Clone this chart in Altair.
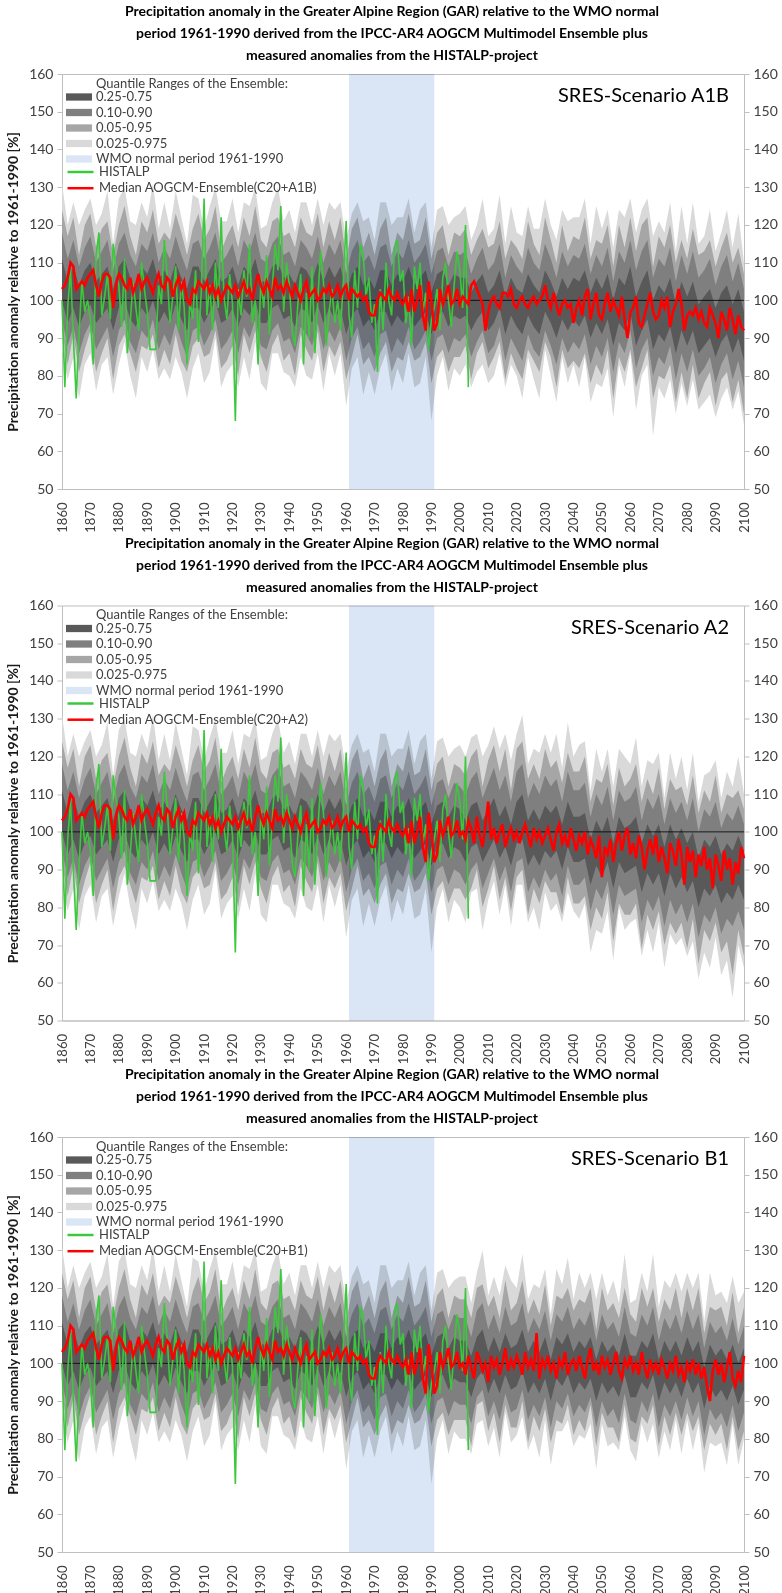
import altair as alt
import pandas as pd

FONT = "Lato"

YEARS = list(range(1860, 2101))
BAND_YEARS = list(range(1860, 2101, 2))
HISTALP_YEARS = list(range(1860, 2004))
X_TICKS = list(range(1860, 2101, 10))
Y_TICKS = list(range(50, 161, 10))
Y_DOMAIN = [50, 160]
WMO_PERIOD = [1961, 1991]

TITLE = [
    "Precipitation anomaly in the Greater Alpine Region (GAR) relative to the WMO normal",
    "period 1961-1990 derived from the IPCC-AR4 AOGCM Multimodel Ensemble plus",
    "measured anomalies from the HISTALP-project",
]
Y_TITLE = "Precipitation anomaly relative to 1961-1990 [%]"
LEGEND_HEADER = "Quantile Ranges of the Ensemble:"
BAND_LABELS = ["0.25-0.75", "0.10-0.90", "0.05-0.95", "0.025-0.975", "WMO normal period 1961-1990"]
BAND_COLORS = ["#595959", "#7f7f7f", "#a6a6a6", "#d9d9d9", "#dae5f5"]

# HISTALP station-based anomalies 1860-2003
histalp = [
    100, 77, 98, 108, 90, 74, 91, 105, 97, 100,
    95, 83, 112, 118, 96, 101, 107, 95, 115, 109,
    104, 93, 111, 86, 94, 105, 98, 92, 110, 103,
    97, 87, 87, 87, 104, 99, 116, 107, 94, 101,
    109, 92, 105, 98, 83, 100, 95, 108, 89, 102,
    127, 96, 104, 92, 110, 98, 122, 101, 95, 107,
    99, 68, 103, 96, 108, 101, 115, 94, 100, 83,
    106, 98, 112, 91, 103, 115, 108, 125, 97, 110,
    104, 92, 88, 99, 107, 83, 102, 90, 109, 86,
    100, 113, 105, 88, 97, 103, 94, 100, 92, 105,
    121, 96, 90, 108, 98, 115, 112, 101, 106, 94,
    99, 81, 103, 92, 110, 100, 96, 114, 116, 105,
    108, 94, 101, 88, 109, 103, 110, 97, 102, 87,
    95, 98, 103, 92, 106, 110, 100, 93, 104, 113,
    108, 98, 120, 77,
]

# Ensemble median, C20 runs 1860-2000
median_c20 = [
    103, 104, 106, 110, 109, 103, 104, 105, 104, 106,
    107, 108, 104, 101, 105, 107, 107, 106, 98, 104,
    107, 106, 104, 103, 106, 102, 104, 107, 103, 105,
    106, 104, 102, 105, 107, 104, 103, 106, 105, 101,
    104, 106, 103, 105, 100, 99, 103, 102, 105, 104,
    103, 105, 102, 104, 101, 103, 100, 102, 104, 103,
    102, 104, 101, 103, 105, 102, 103, 100, 104, 107,
    104, 102, 105, 103, 101, 106, 103, 104, 102, 105,
    103, 101, 104, 102, 100, 103, 105, 101, 102, 103,
    100, 101, 103, 102, 104, 101, 102, 104, 101, 103,
    104, 100, 103, 102, 101, 102, 100, 101, 97, 96,
    96, 100, 102, 101, 100, 103, 101, 100, 102, 100,
    99, 101, 97, 103, 97, 100, 104, 96, 92, 105,
    100, 92, 94, 103, 99, 101, 104, 99, 100, 103,
    99,
]

# Ensemble median, scenario runs 2001-2100
median_a1b = [
    101, 100, 99, 104, 105, 103, 101, 99, 92, 97,
    100, 101, 99, 98, 102, 102, 101, 103, 99, 98,
    100, 101, 99, 98, 100, 101, 99, 100, 101, 104,
    100, 98, 102, 99, 96, 99, 100, 98, 99, 94,
    98, 100, 96, 101, 103, 95, 99, 102, 96, 95,
    99, 102, 97, 100, 98, 96, 101, 95, 90, 97,
    98, 101, 94, 93, 96, 99, 102, 97, 95, 96,
    100, 98, 101, 93, 97, 99, 103, 99, 92, 96,
    97, 96, 98, 95, 97, 94, 93, 98, 96, 94,
    90, 97, 95, 92, 98, 95, 91, 96, 93, 92,
]
median_a2 = [
    100, 98, 103, 101, 97, 104, 99, 96, 102, 108,
    98, 101, 97, 100, 102, 96, 99, 101, 98, 100,
    97, 100, 102, 99, 96, 101, 98, 100, 97, 99,
    101, 98, 95, 100, 102, 97, 99, 96, 101, 98,
    95, 99, 97, 100, 94, 98, 96, 93, 99, 88,
    96, 94, 98, 92, 97, 100, 95, 99, 101, 94,
    97, 93, 99, 96, 90, 95, 98, 94, 99, 92,
    96, 93, 89, 97, 95, 91, 98, 94, 86, 96,
    92, 95, 88, 94, 91, 96, 90, 93, 85, 94,
    91, 87, 95, 90, 93, 86, 92, 89, 96, 93,
]
median_b1 = [
    100, 97, 102, 99, 96, 103, 101, 98, 100, 95,
    102, 99, 101, 97, 100, 104, 98, 101, 99, 102,
    100, 97, 103, 99, 101, 98, 108, 96, 101, 99,
    102, 98, 100, 96, 101, 99, 103, 97, 100, 101,
    98, 102, 99, 96, 101, 104, 98, 100, 97, 102,
    99, 101, 97, 100, 103, 98, 96, 101, 99, 102,
    98, 100, 97, 103, 99, 96, 101, 98, 100, 97,
    101, 99, 96, 100, 98, 102, 97, 99, 95, 100,
    98, 101, 97, 100, 96, 99, 94, 90, 98, 101,
    97, 100, 95, 99, 103, 96, 94, 98, 95, 102,
]

# Ensemble quantiles, C20 runs, every second year 1860-2000
hist_q975 = [131, 120, 126, 120, 124, 127, 120, 123, 129, 115,
             127, 130, 121, 120, 126, 122, 131, 119, 126, 119,
             129, 122, 115, 128, 127, 119, 125, 130, 121, 121,
             127, 118, 126, 125, 130, 119, 120, 126, 130, 121,
             124, 118, 126, 126, 120, 127, 120, 126, 124, 126,
             116, 123, 126, 121, 122, 116, 126, 126, 120, 122,
             122, 127, 118, 124, 126, 114, 124, 125, 120, 122, 123]
hist_q95 = [124, 117, 122, 112, 120, 123, 114, 119, 121, 112,
            120, 125, 117, 112, 121, 118, 124, 115, 118, 116,
            123, 118, 112, 119, 123, 116, 119, 125, 113, 117,
            120, 114, 122, 117, 125, 116, 114, 121, 122, 117,
            118, 114, 122, 118, 117, 123, 114, 121, 116, 122,
            111, 119, 122, 114, 118, 112, 119, 122, 112, 118,
            116, 123, 115, 116, 122, 111, 118, 120, 112, 118, 117]
hist_q90 = [118, 111, 116, 109, 114, 117, 110, 113, 116, 108,
            115, 118, 112, 109, 115, 113, 118, 110, 114, 111,
            117, 112, 108, 115, 116, 111, 114, 118, 110, 112,
            115, 109, 116, 113, 118, 111, 110, 115, 117, 112,
            113, 109, 116, 114, 111, 117, 110, 115, 112, 116,
            107, 113, 116, 110, 112, 108, 114, 115, 109, 113,
            111, 116, 110, 112, 115, 107, 113, 114, 109, 113, 112]
hist_q75 = [111, 105, 109, 104, 108, 110, 105, 107, 109, 103,
            109, 111, 106, 104, 109, 107, 111, 105, 108, 105,
            110, 106, 103, 109, 109, 105, 108, 111, 105, 106,
            109, 104, 109, 107, 111, 105, 105, 109, 110, 106,
            107, 104, 109, 108, 105, 110, 105, 109, 106, 109,
            102, 107, 109, 104, 106, 103, 108, 108, 104, 107,
            105, 109, 104, 106, 108, 102, 107, 108, 104, 107, 106]
hist_q25 = [100, 94, 98, 93, 97, 99, 94, 96, 98, 92,
            98, 100, 95, 93, 98, 96, 100, 94, 97, 94,
            99, 95, 92, 98, 98, 94, 97, 100, 94, 95,
            98, 93, 98, 96, 100, 94, 94, 98, 99, 95,
            96, 93, 98, 97, 94, 99, 94, 98, 95, 98,
            91, 96, 98, 93, 95, 92, 97, 97, 93, 96,
            94, 98, 93, 95, 97, 91, 96, 97, 93, 96, 95]
hist_q10 = [95, 88, 93, 86, 91, 94, 87, 90, 93, 85,
            92, 95, 89, 86, 92, 90, 95, 87, 91, 88,
            94, 89, 85, 92, 93, 88, 91, 95, 87, 89,
            92, 86, 93, 90, 95, 88, 87, 92, 94, 89,
            90, 86, 93, 91, 88, 94, 87, 92, 89, 93,
            84, 90, 93, 87, 89, 85, 91, 92, 86, 90,
            88, 93, 87, 89, 92, 84, 90, 91, 86, 90, 89]
hist_q05 = [92, 83, 91, 81, 87, 92, 81, 86, 90, 79,
            88, 91, 86, 81, 88, 87, 91, 82, 87, 83,
            91, 84, 81, 88, 90, 85, 86, 92, 82, 84,
            88, 80, 91, 86, 92, 85, 81, 88, 91, 84,
            86, 80, 91, 87, 84, 92, 81, 88, 85, 89,
            79, 85, 91, 83, 85, 81, 86, 89, 81, 85,
            84, 89, 84, 85, 89, 78, 85, 87, 81, 85, 85]
hist_q025 = [87, 79, 85, 74, 83, 86, 76, 83, 85, 75,
             83, 89, 80, 74, 85, 81, 87, 79, 82, 79,
             85, 81, 74, 82, 86, 78, 81, 90, 77, 81,
             83, 77, 85, 79, 89, 78, 76, 86, 86, 81,
             80, 77, 85, 80, 79, 86, 76, 86, 80, 86,
             72, 82, 85, 75, 81, 75, 82, 86, 76, 82,
             78, 86, 77, 78, 85, 68, 80, 85, 76, 82, 80]

# Ensemble quantiles, scenario runs, every second year 2002-2100
a1b_q975 = [125, 116, 120, 127, 117, 119, 128, 115, 125, 118,
            117, 125, 119, 119, 127, 120, 116, 124, 121, 122,
            122, 127, 115, 125, 119, 124, 114, 124, 122, 127,
            118, 124, 127, 117, 121, 118, 126, 113, 125, 115,
            126, 115, 117, 124, 113, 118, 124, 114, 123, 110]
a1b_q95 = [119, 112, 116, 119, 114, 115, 121, 111, 116, 114,
           111, 121, 115, 112, 122, 116, 110, 120, 113, 117,
           116, 122, 111, 116, 115, 120, 109, 120, 114, 122,
           113, 120, 122, 109, 117, 114, 120, 110, 116, 111,
           119, 112, 113, 116, 109, 114, 118, 110, 114, 107]
a1b_q90 = [113, 107, 111, 114, 108, 110, 115, 106, 112, 109,
           107, 114, 110, 108, 115, 111, 106, 113, 109, 112,
           111, 115, 107, 112, 109, 114, 105, 113, 110, 116,
           108, 113, 116, 106, 111, 109, 114, 105, 112, 107,
           113, 106, 108, 111, 104, 109, 112, 105, 110, 103]
a1b_q75 = [106, 102, 105, 107, 102, 104, 108, 101, 106, 103,
           102, 107, 104, 102, 108, 105, 101, 106, 103, 106,
           105, 108, 102, 106, 103, 107, 100, 106, 104, 109,
           101, 105, 108, 100, 104, 102, 106, 99, 105, 101,
           105, 99, 101, 103, 98, 102, 104, 99, 103, 97]
a1b_q25 = [96, 92, 95, 97, 92, 94, 98, 91, 96, 93,
           91, 96, 93, 91, 97, 94, 90, 95, 92, 95,
           93, 96, 90, 94, 91, 95, 88, 94, 92, 97,
           88, 92, 95, 87, 91, 89, 93, 86, 92, 88,
           92, 86, 88, 90, 85, 89, 91, 86, 90, 84]
a1b_q10 = [91, 85, 89, 92, 86, 88, 93, 84, 90, 87,
           84, 91, 87, 85, 92, 88, 83, 90, 86, 89,
           87, 91, 83, 88, 85, 90, 81, 89, 86, 92,
           82, 87, 90, 80, 85, 83, 88, 79, 86, 81,
           87, 80, 82, 85, 78, 83, 86, 79, 84, 77]
a1b_q05 = [88, 79, 86, 89, 82, 85, 89, 79, 86, 82,
           79, 87, 84, 81, 89, 85, 77, 87, 82, 84,
           82, 86, 78, 83, 80, 87, 74, 85, 81, 87,
           77, 82, 87, 74, 80, 79, 83, 73, 81, 74,
           83, 74, 78, 81, 72, 79, 81, 73, 79, 70]
a1b_q025 = [83, 77, 81, 83, 78, 80, 86, 77, 83, 80,
            74, 85, 79, 74, 87, 80, 73, 85, 78, 83,
            77, 85, 73, 78, 77, 82, 69, 83, 77, 86,
            71, 80, 83, 64, 77, 74, 79, 70, 78, 72,
            79, 71, 73, 75, 69, 74, 77, 71, 76, 67]

a2_q975 = [120, 125, 126, 120, 123, 128, 122, 126, 119, 126,
           131, 118, 122, 121, 126, 121, 126, 117, 129, 120,
           123, 124, 111, 122, 116, 122, 112, 122, 120, 118,
           125, 112, 119, 118, 121, 109, 121, 114, 120, 111,
           121, 108, 115, 116, 119, 109, 116, 112, 120, 110]
a2_q95 = [115, 120, 122, 112, 119, 123, 116, 122, 111, 122,
          124, 114, 118, 114, 122, 117, 119, 113, 121, 116,
          116, 120, 108, 114, 113, 118, 107, 117, 112, 114,
          118, 108, 114, 110, 117, 106, 114, 111, 112, 107,
          115, 105, 111, 108, 115, 105, 110, 109, 111, 106]
a2_q90 = [110, 114, 116, 109, 113, 117, 111, 115, 108, 116,
          118, 109, 113, 110, 115, 112, 114, 108, 116, 111,
          111, 113, 104, 110, 107, 112, 103, 111, 108, 109,
          112, 103, 109, 106, 110, 102, 109, 105, 108, 103,
          109, 100, 106, 104, 108, 101, 105, 103, 107, 102]
a2_q75 = [103, 107, 108, 103, 106, 109, 104, 107, 102, 108,
          110, 103, 106, 103, 107, 105, 107, 102, 108, 104,
          104, 105, 98, 103, 100, 104, 97, 104, 101, 102,
          104, 97, 102, 99, 102, 96, 102, 98, 101, 97,
          100, 93, 98, 96, 99, 94, 97, 95, 99, 95]
a2_q25 = [92, 96, 97, 92, 95, 98, 93, 96, 91, 97,
          98, 91, 94, 91, 95, 93, 95, 90, 96, 92,
          92, 93, 86, 91, 88, 92, 85, 92, 89, 90,
          91, 84, 89, 86, 89, 83, 89, 85, 88, 84,
          87, 80, 85, 83, 86, 81, 84, 82, 86, 82]
a2_q10 = [86, 90, 92, 85, 89, 93, 87, 91, 84, 92,
          93, 84, 88, 85, 90, 87, 89, 83, 91, 86,
          86, 88, 79, 85, 82, 87, 78, 86, 83, 84,
          85, 76, 82, 79, 83, 75, 82, 78, 81, 76,
          81, 72, 78, 76, 80, 73, 77, 75, 79, 74]
a2_q05 = [82, 85, 90, 80, 85, 91, 82, 88, 79, 88,
          90, 78, 85, 81, 87, 84, 84, 78, 88, 81,
          81, 83, 74, 80, 77, 84, 71, 81, 78, 78,
          81, 69, 78, 74, 79, 70, 76, 73, 76, 69,
          77, 65, 74, 71, 76, 68, 71, 62, 74, 67]
a2_q025 = [76, 84, 85, 74, 82, 87, 78, 86, 75, 86,
           86, 76, 80, 74, 84, 79, 81, 76, 84, 79,
           77, 81, 68, 74, 73, 79, 66, 80, 74, 76,
           77, 67, 74, 68, 76, 64, 73, 70, 72, 67,
           71, 61, 68, 64, 72, 62, 66, 56, 70, 64]

b1_q975 = [123, 116, 124, 130, 118, 123, 118, 126, 122, 120,
           129, 117, 121, 120, 125, 113, 125, 121, 128, 117,
           124, 120, 124, 117, 124, 118, 122, 116, 129, 116,
           117, 124, 119, 129, 115, 122, 120, 124, 119, 124,
           120, 124, 111, 124, 118, 119, 116, 123, 116, 119]
b1_q95 = [117, 112, 120, 121, 115, 118, 112, 122, 114, 116,
          122, 113, 117, 113, 121, 110, 118, 117, 120, 114,
          117, 116, 120, 109, 120, 114, 116, 112, 120, 113,
          111, 120, 115, 120, 111, 117, 114, 120, 112, 120,
          114, 120, 108, 115, 114, 115, 110, 119, 108, 115]
b1_q90 = [112, 107, 114, 116, 109, 113, 108, 115, 110, 111,
          116, 108, 112, 109, 114, 106, 113, 111, 115, 109,
          112, 110, 114, 106, 113, 109, 111, 107, 115, 108,
          107, 113, 110, 115, 106, 112, 109, 113, 108, 114,
          109, 113, 104, 111, 108, 110, 106, 112, 105, 110]
b1_q75 = [106, 102, 107, 109, 103, 107, 103, 108, 104, 105,
          109, 103, 106, 103, 107, 101, 107, 105, 108, 103,
          106, 104, 107, 101, 106, 103, 105, 102, 108, 102,
          102, 106, 104, 108, 101, 106, 103, 106, 102, 107,
          103, 106, 99, 105, 102, 104, 101, 105, 100, 104]
b1_q25 = [95, 91, 96, 98, 92, 96, 92, 97, 93, 94,
          98, 92, 95, 92, 96, 90, 96, 94, 97, 92,
          95, 93, 96, 90, 95, 92, 94, 91, 97, 91,
          91, 95, 93, 97, 90, 95, 92, 95, 91, 96,
          92, 95, 88, 94, 91, 93, 90, 94, 89, 93]
b1_q10 = [89, 84, 91, 93, 86, 90, 85, 92, 87, 88,
          93, 85, 89, 86, 91, 83, 90, 88, 92, 86,
          89, 87, 91, 83, 90, 86, 88, 84, 92, 85,
          84, 90, 87, 92, 83, 89, 86, 90, 85, 91,
          86, 90, 81, 88, 85, 87, 83, 89, 82, 87]
b1_q05 = [85, 78, 89, 90, 82, 87, 79, 89, 83, 83,
          90, 79, 86, 82, 88, 79, 85, 84, 89, 81,
          85, 82, 89, 78, 87, 83, 83, 79, 89, 80,
          79, 86, 84, 89, 78, 86, 81, 87, 81, 87,
          82, 86, 77, 84, 81, 84, 77, 86, 77, 82]
b1_q025 = [80, 76, 84, 85, 78, 83, 75, 87, 79, 81,
           86, 77, 81, 75, 85, 73, 82, 82, 85, 78,
           81, 80, 84, 72, 84, 78, 79, 77, 86, 77,
           74, 84, 79, 84, 75, 82, 77, 85, 76, 85,
           77, 84, 71, 79, 78, 79, 73, 84, 73, 80]

HIST = {"q975": hist_q975, "q95": hist_q95, "q90": hist_q90, "q75": hist_q75,
        "q25": hist_q25, "q10": hist_q10, "q05": hist_q05, "q025": hist_q025}
SCENARIOS = [
    ("A1B", median_a1b, {"q975": a1b_q975, "q95": a1b_q95, "q90": a1b_q90, "q75": a1b_q75,
                         "q25": a1b_q25, "q10": a1b_q10, "q05": a1b_q05, "q025": a1b_q025}),
    ("A2", median_a2, {"q975": a2_q975, "q95": a2_q95, "q90": a2_q90, "q75": a2_q75,
                       "q25": a2_q25, "q10": a2_q10, "q05": a2_q05, "q025": a2_q025}),
    ("B1", median_b1, {"q975": b1_q975, "q95": b1_q95, "q90": b1_q90, "q75": b1_q75,
                       "q25": b1_q25, "q10": b1_q10, "q05": b1_q05, "q025": b1_q025}),
]

W, H = 682, 415

xscale = alt.Scale(domain=[1860, 2100], nice=False, zero=False)
yscale = alt.Scale(domain=Y_DOMAIN, nice=False, zero=False)
xaxis = alt.Axis(values=X_TICKS, format="d", labelAngle=-90, ticks=False, labelPadding=13,
                 labelFontSize=13, title=None, domainColor="#bfbfbf")
left_axis = alt.Axis(values=Y_TICKS, orient="left", labelFontSize=14, tickSize=5, labelPadding=4,
                     title=Y_TITLE, titleFontSize=14, titleFontWeight="bold", titleFont=FONT,
                     titleColor="#1a1a1a", titlePadding=8)
right_axis = alt.Axis(values=Y_TICKS, orient="right", labelFontSize=14, tickSize=5, labelPadding=4,
                      title=None)

# Legend swatches: 26 x 7 px bars for the bands, 26 px strokes for the lines
fill_legend = alt.Legend(orient="none", legendX=10.5, legendY=16.5, title=None,
                         symbolType="M-2,-0.56H2V0.56H-2Z", symbolSize=169, symbolStrokeWidth=0,
                         labelFontSize=13, labelFont=FONT, labelColor="#404040", labelLimit=400,
                         rowPadding=1.5, labelOffset=10.5, padding=0)
stroke_legend = alt.Legend(orient="none", legendX=10.5, legendY=90, title=None,
                           symbolType="M-2,0H2", symbolSize=169, symbolStrokeWidth=2.5,
                           labelFontSize=13, labelFont=FONT, labelColor="#404040", labelLimit=400,
                           rowPadding=1.2, labelOffset=10.5, padding=0)
color_scale = alt.Scale(domain=BAND_LABELS, range=BAND_COLORS)


def panel(tag, fut_median, fut_bands):
    median_label = f"Median AOGCM-Ensemble(C20+{tag})"
    bands = pd.DataFrame({"year": BAND_YEARS,
                          **{k: HIST[k] + fut_bands[k] for k in HIST}})
    med = pd.DataFrame({"year": YEARS, "value": median_c20 + fut_median,
                        "series": median_label})
    obs = pd.DataFrame({"year": HISTALP_YEARS, "value": histalp, "series": "HISTALP"})
    wmo = pd.DataFrame({"start": [WMO_PERIOD[0]], "end": [WMO_PERIOD[1]],
                        "lo": [Y_DOMAIN[0]], "hi": [Y_DOMAIN[1]],
                        "band": [BAND_LABELS[4]]})
    ref = pd.DataFrame({"ref": [100]})
    stroke_scale = alt.Scale(domain=["HISTALP", median_label], range=["#3cc83c", "#ff0000"])

    x = alt.X("year:Q", scale=xscale, axis=xaxis)
    layers = []
    for i, (lo, hi, label) in enumerate([("q025", "q975", "0.025-0.975"),
                                          ("q05", "q95", "0.05-0.95"),
                                          ("q10", "q90", "0.10-0.90"),
                                          ("q25", "q75", "0.25-0.75")]):
        layers.append(
            alt.Chart(bands).transform_calculate(band=f"'{label}'")
            .mark_area(opacity=1, interpolate="linear")
            .encode(x=x,
                    y=alt.Y(f"{lo}:Q", scale=yscale, axis=left_axis if i == 0 else None),
                    y2=f"{hi}:Q",
                    color=alt.Color("band:N", scale=color_scale, legend=fill_legend))
        )
    layers.append(
        alt.Chart(wmo).mark_rect(blend="multiply", opacity=1)
        .encode(x=alt.X("start:Q", scale=xscale, axis=xaxis), x2="end:Q",
                y=alt.Y("lo:Q", scale=yscale, axis=None), y2="hi:Q",
                color=alt.Color("band:N", scale=color_scale, legend=fill_legend))
    )
    layers.append(
        alt.Chart(ref).mark_rule(color="black", strokeWidth=0.8)
        .encode(y=alt.Y("ref:Q", scale=yscale, axis=None))
    )
    layers.append(
        alt.Chart(obs).mark_line(strokeWidth=1.6)
        .encode(x=x, y=alt.Y("value:Q", scale=yscale, axis=None),
                stroke=alt.Stroke("series:N", scale=stroke_scale, legend=stroke_legend))
    )
    layers.append(
        alt.Chart(med).mark_line(strokeWidth=2.6)
        .encode(x=x, y=alt.Y("value:Q", scale=yscale, axis=right_axis),
                stroke=alt.Stroke("series:N", scale=stroke_scale, legend=stroke_legend))
    )
    layers.append(
        alt.Chart(pd.DataFrame({"label": [LEGEND_HEADER]}))
        .mark_text(align="left", baseline="middle", font=FONT, fontSize=13, color="#404040")
        .encode(x=alt.value(34), y=alt.value(9.5), text="label:N")
    )
    layers.append(
        alt.Chart(pd.DataFrame({"label": [f"SRES-Scenario {tag}"]}))
        .mark_text(align="right", baseline="middle", font=FONT, fontSize=20, color="black")
        .encode(x=alt.value(667), y=alt.value(22), text="label:N")
    )
    return (
        alt.layer(*layers)
        .resolve_axis(y="independent")
        .properties(
            width=W, height=H,
            title=alt.TitleParams(TITLE, font=FONT, fontSize=14, fontWeight="bold",
                                  color="black", anchor="middle", frame="bounds",
                                  lineHeight=22, offset=4),
        )
    )


panels = [panel(tag, med, bands) for tag, med, bands in SCENARIOS]

chart = (
    alt.vconcat(*panels, spacing=2.5)
    .resolve_scale(color="independent", stroke="independent")
    .properties(padding={"left": 6, "top": 4, "right": 4, "bottom": 0}, background="white")
    .configure_view(stroke="#bfbfbf", strokeWidth=1)
    .configure_axis(domainColor="#bfbfbf", tickColor="#bfbfbf", labelColor="#404040",
                    labelFont=FONT, titleFont=FONT, grid=False)
)

chart.save("out.html", embed_options={"renderer": "svg", "actions": False})
